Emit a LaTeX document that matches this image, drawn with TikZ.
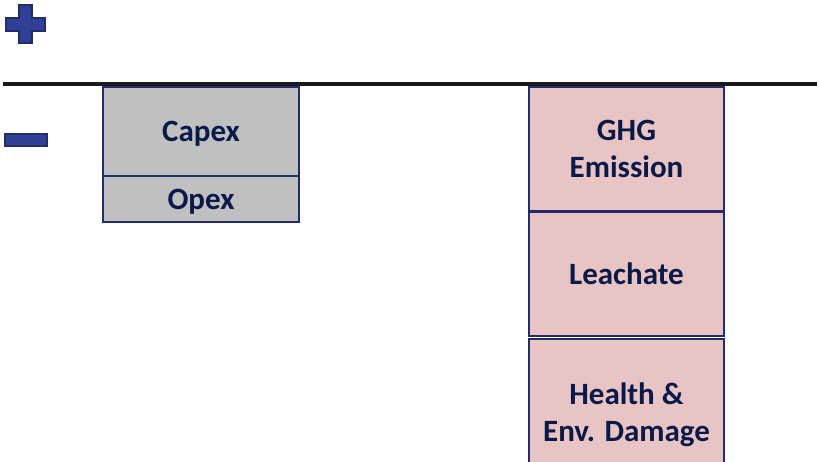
\documentclass[tikz,border=0pt]{standalone}
\usepackage{fontspec}
\setmainfont{Carlito}
\definecolor{navytext}{RGB}{10,26,72}
\definecolor{navyline}{RGB}{34,44,104}
\definecolor{signblue}{RGB}{48,64,148}
\definecolor{costgray}{RGB}{192,192,192}
\definecolor{damagepink}{RGB}{232,196,196}
\tikzset{
  costbox/.style={rectangle, draw=navyline, line width=2.5pt, fill=costgray, inner sep=0pt, outer sep=0pt,
    minimum width=196pt, align=center, text=navytext, text depth=0pt, font=\fontsize{31}{37}\selectfont\bfseries},
  damagebox/.style={costbox, fill=damagepink, minimum width=195pt},
  signshape/.style={fill=signblue, draw=navyline, line width=1.5pt}
}
\begin{document}
\begin{tikzpicture}[x=1pt, y=-1pt]
      \useasboundingbox (0,0) rectangle (819,461);

      % plus and minus signs
      \draw[signshape] (19,5) -- (32,5) -- (32,18) -- (45,18) -- (45,31) -- (32,31) -- (32,43)
        -- (19,43) -- (19,31) -- (6,31) -- (6,18) -- (19,18) -- cycle;
      \draw[signshape] (5,134) rectangle (47,146);

      % costs
      \node[costbox, minimum height=89pt](Capex) at (201,131.5) {Capex};
      \node[costbox, minimum height=46pt](Opex) at (201,199) {Opex};

      % damages
      \node[damagebox, minimum height=124pt](GHG) at (626.5,149) {GHG\\Emission};
      \node[damagebox, minimum height=124pt](Leach) at (626.5,274) {Leachate};
      \node[damagebox, minimum height=146pt](Health) at (626.5,412) {Health \&\\Env. Damage};

      % zero line
      \coordinate (L) at (3,84);
      \coordinate (R) at (817,84);
      \draw[line width=4pt, black!90] (L) -- (R);
    \end{tikzpicture}
\end{document}
